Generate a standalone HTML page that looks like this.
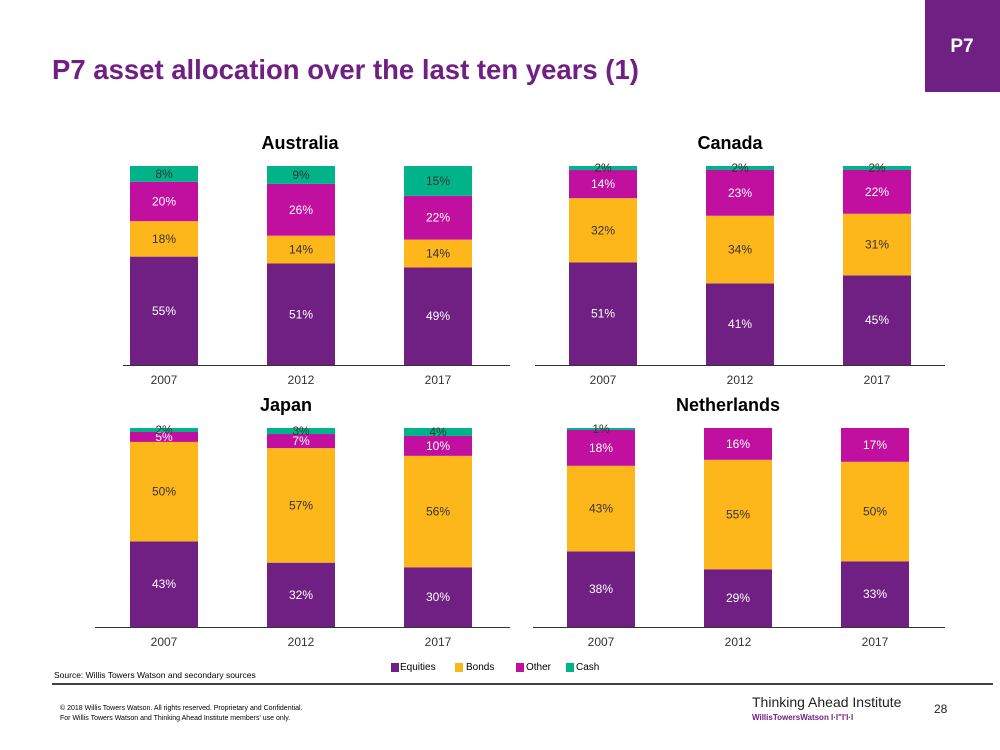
<!DOCTYPE html>
<html><head><meta charset="utf-8">
<style>
body{margin:0;background:#fff;}
#wrap{position:relative;width:1000px;height:750px;overflow:hidden;font-family:"Liberation Sans",Arial,sans-serif;}
</style></head>
<body>
<div id="wrap">
<svg id="svg" width="1000" height="750" xmlns="http://www.w3.org/2000/svg" style="position:absolute;left:0;top:0">
  <rect x="925" y="0" width="75" height="92" fill="#702082"/>
  <text x="962" y="52" fill="#fff" font-size="19" font-weight="bold" text-anchor="middle">P7</text>
  <text x="52" y="79" fill="#702082" font-size="27.5" font-weight="bold">P7 asset allocation over the last ten years (1)</text>
  <g id="charts"></g>
  <g font-size="10" fill="#000">
    <rect x="391" y="663" width="8" height="9" fill="#702082"/><text x="400" y="670">Equities</text>
    <rect x="455" y="663" width="8" height="9" fill="#FDB71A"/><text x="466" y="670">Bonds</text>
    <rect x="516" y="663" width="8" height="9" fill="#C110A0"/><text x="526" y="670">Other</text>
    <rect x="566" y="663" width="8" height="9" fill="#00B388"/><text x="576" y="670">Cash</text>
  </g>
  <text x="54" y="678" font-size="8.5" fill="#000">Source: Willis Towers Watson and secondary sources</text>
  <line x1="52" y1="684" x2="993" y2="684" stroke="#000" stroke-width="1.5"/>
  <text x="60" y="710" font-size="7" fill="#000">© 2018 Willis Towers Watson. All rights reserved. Proprietary and Confidential.</text>
  <text x="60" y="720" font-size="7" fill="#000">For Willis Towers Watson and Thinking Ahead Institute members' use only.</text>
  <text x="752" y="707" font-size="14" fill="#222">Thinking Ahead Institute</text>
  <text x="752" y="720" font-size="8" font-weight="bold" fill="#702082">WillisTowersWatson  I·I"I'I·I</text>
  <text x="934" y="713" font-size="12" fill="#222">28</text>
</svg>
</div>
<script>
const years = ["2007","2012","2017"];
const seriesNames = ["Equities","Bonds","Other","Cash"];
const australiaValues = [[55,18,20,8],[51,14,26,9],[49,14,22,15]];
const canadaValues = [[51,32,14,2],[41,34,23,2],[45,31,22,2]];
const japanValues = [[43,50,5,2],[32,57,7,3],[30,56,10,4]];
const netherlandsValues = [[38,43,18,1],[29,55,16,0],[33,50,17,0]];

const colors=["#702082","#FDB71A","#C110A0","#00B388"];
const labelColors=["#fff","#333","#fff","#333"];
const NS="http://www.w3.org/2000/svg";
const root=document.getElementById('charts');
function mk(tag,attrs,parent){const e=document.createElementNS(NS,tag);for(const k in attrs)e.setAttribute(k,attrs[k]);parent.appendChild(e);return e;}
const panels=[
 {name:"Australia",vals:australiaValues,x0:130,base:365,ax1:123,ax2:510,tx:300,ty:149},
 {name:"Canada",vals:canadaValues,x0:569,base:365,ax1:535,ax2:945,tx:730,ty:149},
 {name:"Japan",vals:japanValues,x0:130,base:627,ax1:95,ax2:510,tx:286,ty:411},
 {name:"Netherlands",vals:netherlandsValues,x0:567,base:627,ax1:533,ax2:945,tx:728,ty:411}
];
const step=137,bw=68,H=199;
panels.forEach(p=>{
  const g=mk('g',{},root);
  const slug=p.name.toLowerCase();
  
  
  const t=mk('text',{x:p.tx,y:p.ty,'text-anchor':'middle','font-size':18,'font-weight':'bold',fill:'#000'},g);
  t.textContent=p.name;
  
  
  p.vals.forEach((vals,i)=>{
    const sum=vals.reduce((a,b)=>a+b,0);
    const x=p.x0+i*step;
    let y=p.base;
    vals.forEach((v,s)=>{
      if(v<=0) return;
      const h=v/sum*H;
      y-=h;
      const r=mk('rect',{x:x,y:y,width:bw,height:h,fill:colors[s]},g);
      
      
      const lb=mk('text',{x:x+bw/2,y:y+h/2+4,'text-anchor':'middle','font-size':12,fill:labelColors[s]},g);
      lb.textContent=v+'%';
      
      
    });
    const c=mk('text',{x:x+bw/2,y:p.base+19,'text-anchor':'middle','font-size':12,fill:'#333'},g);
    c.textContent=years[i];
    
    
  });
  const ax=mk('line',{x1:p.ax1,x2:p.ax2,y1:p.base+0.5,y2:p.base+0.5,stroke:'#333','stroke-width':1},g);
  
  
});
</script>
</body></html>
